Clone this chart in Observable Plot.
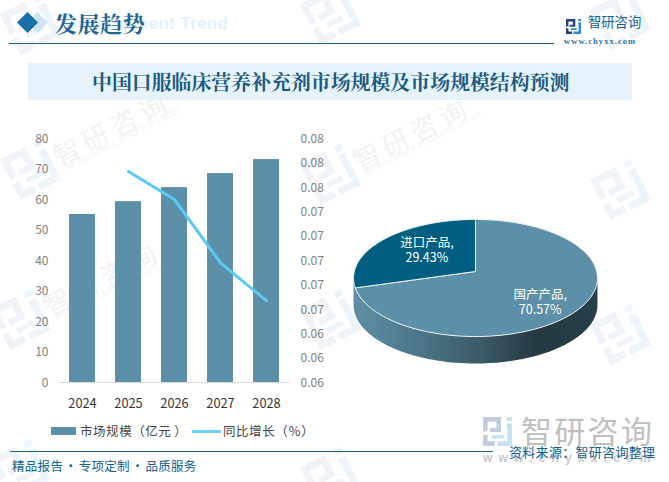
<!DOCTYPE html>
<html lang="zh">
<head>
<meta charset="utf-8">
<script src="https://cdn.jsdelivr.net/npm/d3@7"></script>
<script src="https://cdn.jsdelivr.net/npm/@observablehq/plot@0.6"></script>
<style>
html,body{margin:0;padding:0;background:#fff;}
#page{position:relative;width:669px;height:482px;overflow:hidden;font-family:"Noto Sans CJK SC","Noto Sans",sans-serif;}
#page>svg,#page>.abs,#page>div{position:absolute;}
.plot{left:0;top:0;background:transparent;}
.wm{position:absolute;width:190px;height:60px;transform-origin:0 30px;transform:rotate(-27deg);}
.wm svg{position:absolute;left:0;top:7px;width:46px;height:46px;}
.wm .cn{position:absolute;left:50px;top:13px;font-size:27px;letter-spacing:5px;line-height:34px;color:#f1f2f3;white-space:nowrap;}
.wm .en{position:absolute;left:55px;top:38px;font-size:7.8px;letter-spacing:.3px;line-height:11px;color:#f3f4f5;white-space:nowrap;}
.fd{display:inline-block;width:15.5px;text-align:center;}
</style>
</head>
<body>
<div id="page"></div>
<script>
// ---- data ----
const years = ["2024","2025","2026","2027","2028"];
const marketSize = [55.1,59.3,63.9,68.5,73.1];
const growthYears = ["2025","2026","2027","2028"];
const growth = [0.0773,0.0750,0.0698,0.0667];
const sliceNames = ["进口产品","国产产品"];
const sliceShares = [29.43,70.57];
const leftTicks = [0,10,20,30,40,50,60,70,80];
const rightTicks = [0.06,0.062,0.064,0.066,0.068,0.07,0.072,0.074,0.076,0.078,0.08];
// watermark units: logo centre, and whether the wordmark fits on the page
const wmFull = [[30,170],[330,175],[20,320],[330,320]];
const wmLogoOnly = [[30,25],[330,15],[620,20],[620,190],[620,335],[20,470],[330,478]];

const page = document.getElementById("page");
const FONT = '"Noto Sans CJK SC","Noto Sans",sans-serif';
const SERIF = '"Noto Serif CJK SC","Source Han Serif SC",serif';

function logo(dark, blue){
  return `<svg viewBox="0 0 100 100" xmlns="http://www.w3.org/2000/svg">
  <path fill="${dark}" d="M0 0H62V52H24V38H46V16H16V50H0ZM0 62H16V84H40V100H0Z"/>
  <path fill="${blue}" d="M82 0H100V14H82ZM82 22H100V100H50V84H84V40H82ZM32 62H72V74H32Z"/></svg>`;
}

// watermarks
const addWm=(list,withText)=>{for (const [cx,cy] of list){
  const d=document.createElement("div");
  d.className="wm";
  d.style.left=(cx-20.5)+"px"; d.style.top=(cy-19.6)+"px";
  d.innerHTML=logo("#f0f3f7","#edf5fa")+(withText?`<div class="cn">智研咨询</div><div class="en">INTELLIGENCE RESEARCH GROUP</div>`:"");
  page.appendChild(d);
}};
addWm(wmFull,true); addWm(wmLogoOnly,false);

function html(s){const t=document.createElement("div");t.innerHTML=s;const e=t.firstElementChild;page.appendChild(e);return e;}

// big lower-right watermark
html(`<div style="left:483px;top:417px;width:29px;height:29px;">${logo("#c3cde2","#c7e2f2")}</div>`);
html(`<div style="left:521px;top:411px;font-size:31px;line-height:38px;letter-spacing:2.3px;color:#c0c0c0;white-space:nowrap;">智研咨询</div>`);
html(`<div style="left:483px;top:451px;font:bold 12px 'Liberation Sans';letter-spacing:6.2px;color:#c8c8c8;white-space:nowrap;">www.chyxx.com</div>`);

// header
html(`<div style="left:65px;top:14px;font:bold 16.5px 'Liberation Sans';letter-spacing:.6px;color:#e3f1fb;white-space:nowrap;">Development Trend</div>`);
html(`<div style="left:27px;top:12px;width:21px;height:21px;"><svg width="21" height="21" viewBox="0 0 21 21"><path d="M10.5 0L21 10.5L10.5 21L0 10.5Z" fill="#cfe3f0"/></svg></div>`);
html(`<div style="left:17px;top:12px;width:21px;height:21px;"><svg width="21" height="21" viewBox="0 0 21 21"><path d="M10.5 0L21 10.5L10.5 21L0 10.5Z" fill="#1570a9"/></svg></div>`);
html(`<div style="left:55px;top:7px;font-family:${SERIF.replace(/"/g,"'")};font-weight:700;font-size:22px;line-height:32px;letter-spacing:.6px;color:#1c6394;white-space:nowrap;">发展趋势</div>`);
html(`<div style="left:9px;top:43px;width:545px;height:1px;background:#1f5f8f;"></div>`);
html(`<div style="left:566px;top:15px;width:15px;height:15px;">${logo("#2a3f83","#2c8fd6")}</div>`);
html(`<div style="left:588px;top:12px;font-size:13.3px;line-height:20px;color:#1a5f95;white-space:nowrap;">智研咨询</div>`);
html(`<div style="left:564px;top:36px;font:bold 8.5px 'Liberation Serif';letter-spacing:1.05px;color:#2f6f9f;white-space:nowrap;">www.chyxx.com</div>`);
html(`<div style="left:28px;top:63px;width:604px;height:37px;background:#e6f3fb;"></div>`);
html(`<div style="left:92px;top:63px;height:37px;line-height:37px;font-family:${SERIF.replace(/"/g,"'")};font-weight:700;font-size:19.9px;color:#1c5a80;white-space:nowrap;">中国口服临床营养补充剂市场规模及市场规模结构预测</div>`);

// bars + left axis + year labels
const barPlot = Plot.plot({
  width:669,height:482,marginLeft:59,marginRight:380,marginTop:138,marginBottom:100,
  style:{fontFamily:FONT,background:"transparent"},
  x:{type:"band",domain:years,paddingInner:0.435,paddingOuter:0.2175,label:null},
  y:{domain:[0,80],label:null},
  marks:[
    Plot.barY(years.map((d,i)=>({year:d,value:marketSize[i]})),{x:"year",y:"value",fill:"#5c8fa8"}),
    Plot.ruleY([0],{stroke:"#dcdcdc",strokeWidth:1}),
    Plot.axisY({ticks:leftTicks,tickSize:0,tickPadding:11,label:null,fontSize:12,color:"#7f7f7f",dy:0.5,tickFormat:d=>String(d)}),
    Plot.axisX({tickSize:0,tickPadding:16,label:null,fontSize:12.8,color:"#333"})
  ]
});
barPlot.classList.add("plot");
page.appendChild(barPlot);

// line + right axis
const linePlot = Plot.plot({
  width:669,height:482,marginLeft:59,marginRight:380,marginTop:138,marginBottom:100,
  style:{fontFamily:FONT,background:"transparent"},
  x:{type:"point",domain:years,padding:0.5,axis:null},
  y:{domain:[0.06,0.08],label:null,axis:null},
  marks:[
    Plot.line(growthYears.map((d,i)=>({year:d,value:growth[i]})),{x:"year",y:"value",stroke:"#5ccaf6",strokeWidth:3,strokeLinejoin:"round",curve:"linear"}),
    Plot.axisY({anchor:"right",ticks:rightTicks,tickSize:0,tickPadding:11,label:null,fontSize:12,color:"#7f7f7f",dy:0.5,tickFormat:d=>d.toFixed(2)})
  ]
});
linePlot.classList.add("plot");
page.appendChild(linePlot);

// pie, drawn as a perspective-projected disc
const P=0.111;
const proj=(deg,r=1)=>{const a=deg*Math.PI/180,u=r*Math.sin(a),v=r*Math.cos(a),k=1+P*v;return {x:u/k,y:v/k};};
const arc=(a0,a1)=>{const out=[];const n=Math.ceil(Math.abs(a1-a0));for(let i=0;i<=n;i++)out.push(proj(a0+(a1-a0)*i/n));return out;};
const total=d3.sum(sliceShares);
const importEnd=360, importStart=360-360*sliceShares[0]/total;
const DEPTH=27/57.8;       // disc thickness as a share of its vertical radius
const sideTop=arc(96.4,263.6);
const side=[...sideTop,...sideTop.slice().reverse().map(p=>({x:p.x,y:p.y-DEPTH}))];
const sliceDomestic=[{x:0,y:0},...arc(0,importStart),{x:0,y:0}];
const sliceImport=[{x:0,y:0},...arc(importStart,importEnd),{x:0,y:0}];
const mid=(importStart+importEnd)/2, midD=importStart/2;
const labels=[
  {...proj(mid,0.52),t:`${sliceNames[0]},\n${sliceShares[0].toFixed(2)}%`},
  {...proj(midD,0.64),t:`${sliceNames[1]},\n${sliceShares[1].toFixed(2)}%`}
];
const gradient=()=>{const s=d3.create("svg:defs");const g=s.append("linearGradient").attr("id","sideGrad").attr("x1",0).attr("x2",1).attr("y1",0).attr("y2",0);
  [[0,"#5f8fa6"],[0.3,"#4a7384"],[0.55,"#395662"],[0.76,"#243840"],[1,"#263f49"]].forEach(([o,c])=>g.append("stop").attr("offset",o).attr("stop-color",c));return s.node();};
const piePlot=Plot.plot({
  width:669,height:482,marginLeft:345,marginRight:64,marginTop:210,marginBottom:112,
  style:{fontFamily:FONT,background:"transparent"},
  x:{domain:[-130/121.2,130/121.2],axis:null},
  y:{domain:[-99/57.8,61/57.8],axis:null},
  marks:[
    gradient,
    Plot.line(side,{x:"x",y:"y",fill:"url(#sideGrad)",stroke:"none"}),
    Plot.line(sliceDomestic,{x:"x",y:"y",fill:"#5c8fa8",stroke:"#eef4f7",strokeWidth:1}),
    Plot.line(sliceImport,{x:"x",y:"y",fill:"#005f80",stroke:"#eef4f7",strokeWidth:1}),
    Plot.text(labels.slice(0,1),{x:"x",y:"y",text:"t",fill:"white",fontSize:12.5,lineHeight:1.2,dy:-4}),
    Plot.text(labels.slice(1),{x:"x",y:"y",text:"t",fill:"white",fontSize:12.5,lineHeight:1.2,dy:7})
  ]
});
piePlot.classList.add("plot");
page.appendChild(piePlot);

// legend
html(`<div style="left:51px;top:427px;width:25px;height:8px;background:#5c8fa8;"></div>`);
html(`<div style="left:80px;top:421px;font-size:12.5px;line-height:20px;letter-spacing:.55px;color:#444;white-space:nowrap;">市场规模（亿元<span style="margin-left:3px">）</span></div>`);
html(`<div style="left:192px;top:430px;width:29px;height:3px;background:#6dd0f7;"></div>`);
html(`<div style="left:223px;top:421px;font-size:12.5px;line-height:20px;letter-spacing:.55px;color:#444;white-space:nowrap;">同比增长（％）</div>`);

// footer
html(`<div style="left:10px;top:451px;width:483px;height:1px;background:#1f5f8f;"></div>`);
html(`<div style="left:12px;top:456px;font-size:12.5px;line-height:20px;letter-spacing:.3px;color:#10608f;white-space:nowrap;">精品报告<span class="fd">·</span>专项定制<span class="fd">·</span>品质服务</div>`);
html(`<div style="left:509px;top:442px;font-size:13px;line-height:20px;letter-spacing:.3px;color:#10608f;white-space:nowrap;">资料来源：智研咨询整理</div>`);
</script>
</body>
</html>
